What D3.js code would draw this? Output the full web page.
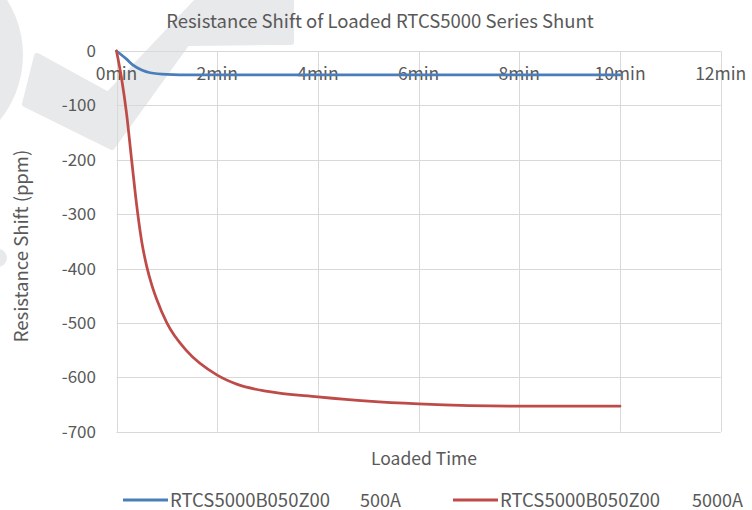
<!DOCTYPE html>
<html>
<head>
<meta charset="utf-8">
<script src="https://cdn.jsdelivr.net/npm/d3@7"></script>
<style>
  body { margin: 0; background: #fff; }
  text { font-family: "Noto Sans CJK SC", "Noto Sans", sans-serif; fill: #595959; }
</style>
</head>
<body>
<div id="chart"></div>
<script>
// Data
var timeTicks = [0, 2, 4, 6, 8, 10, 12];
var shiftTicks = [0, -100, -200, -300, -400, -500, -600, -700];

var time500A = [0, 0.2, 0.33, 0.5, 0.67, 1, 1.5, 2, 3, 4, 5, 6, 7, 8, 9, 10];
var shift500A = [0, -15, -26, -35, -40, -43, -44, -44, -44, -44, -44, -44, -44, -44, -44, -44];

var time5000A = [0, 0.1, 0.2, 0.3, 0.4, 0.5, 0.6, 0.7, 0.8, 1, 1.4, 2, 2.4, 3, 4, 5, 6, 7, 8, 9, 10];
var shift5000A = [0, -50, -115, -200, -283, -350, -396, -430, -457, -500, -552, -596, -613, -626, -636, -644, -649, -652, -653, -653, -653];

var seriesNames = ['RTCS5000B050Z00', 'RTCS5000B050Z00'];
var seriesCurrents = ['500A', '5000A'];
var seriesColors = ['#4a7ebb', '#be4b48'];

var width = 752, height = 510;

var svg = d3.select('#chart').append('svg')
  .attr('width', width)
  .attr('height', height);

// Watermark shapes in the background
var wm = svg.append('g').attr('fill', '#e8e9eb').attr('stroke', '#e8e9eb')
  .attr('stroke-width', 6).attr('stroke-linejoin', 'round');
wm.append('circle').attr('cx', -80).attr('cy', 55).attr('r', 100);
wm.append('path')
  .attr('d', 'M203,-5 L291,-5 L291,42 L187,43 L112,147 L25,104 L37,56 L108,95 Z');
wm.append('circle').attr('cx', -2).attr('cy', 258).attr('r', 6);

// Scales
var x = d3.scaleLinear().domain([0, 12]).range([116.5, 720.7]);
var y = d3.scaleLinear().domain([0, -700]).range([51, 431.7]);

// Grid
var grid = svg.append('g').attr('stroke', '#d9d9d9').attr('stroke-width', 1);
grid.selectAll('.h')
  .data(shiftTicks)
  .enter().append('line')
  .attr('x1', x(0)).attr('x2', x(12))
  .attr('y1', function(d) { return Math.round(y(d)) + 0.5; })
  .attr('y2', function(d) { return Math.round(y(d)) + 0.5; });
grid.selectAll('.v')
  .data(timeTicks)
  .enter().append('line')
  .attr('y1', y(0)).attr('y2', y(-700))
  .attr('x1', function(d) { return Math.round(x(d)) + 0.5; })
  .attr('x2', function(d) { return Math.round(x(d)) + 0.5; });

// Y tick labels
svg.append('g').selectAll('text')
  .data(shiftTicks)
  .enter().append('text')
  .attr('x', 96)
  .attr('y', function(d) { return y(d) + 6; })
  .attr('text-anchor', 'end')
  .style('font-size', '17px')
  .text(function(d) { return d; });

// X tick labels (sitting on the zero line)
svg.append('g').selectAll('text')
  .data(timeTicks)
  .enter().append('text')
  .attr('x', function(d) { return x(d); })
  .attr('y', 80)
  .attr('text-anchor', 'middle')
  .style('font-size', '17.5px')
  .text(function(d) { return d + 'min'; });

// Lines
var line = d3.line()
  .x(function(d) { return x(d[0]); })
  .y(function(d) { return y(d[1]); })
  .curve(d3.curveMonotoneX);

var series = [d3.zip(time500A, shift500A), d3.zip(time5000A, shift5000A)];

svg.append('g').selectAll('path')
  .data(series)
  .enter().append('path')
  .attr('d', line)
  .attr('fill', 'none')
  .attr('stroke', function(d, i) { return seriesColors[i]; })
  .attr('stroke-width', 2.75)
  .attr('stroke-linecap', 'round');

// Title
svg.append('text')
  .attr('x', 380).attr('y', 28)
  .attr('text-anchor', 'middle')
  .style('font-size', '18.5px')
  .text('Resistance Shift of Loaded RTCS5000 Series Shunt');

// Axis titles
svg.append('text')
  .attr('transform', 'translate(28,246) rotate(-90)')
  .attr('text-anchor', 'middle')
  .style('font-size', '18.5px')
  .text('Resistance Shift (ppm)');

svg.append('text')
  .attr('x', 424).attr('y', 465)
  .attr('text-anchor', 'middle')
  .style('font-size', '17.5px')
  .text('Loaded Time');

// Legend
var legendX = [123, 453];
var currentX = [360, 692];
var legend = svg.append('g').selectAll('g')
  .data(seriesNames)
  .enter().append('g')
  .attr('transform', function(d, i) { return 'translate(' + legendX[i] + ',500)'; });
legend.append('line')
  .attr('x1', 0).attr('x2', 45)
  .attr('stroke', function(d, i) { return seriesColors[i]; })
  .attr('stroke-width', 3);
legend.append('text')
  .attr('x', 47).attr('y', 6.5)
  .style('font-size', '18.5px')
  .text(function(d) { return d; });
legend.append('text')
  .attr('x', function(d, i) { return currentX[i] - legendX[i]; }).attr('y', 6.5)
  .style('font-size', '18px')
  .text(function(d, i) { return seriesCurrents[i]; });
</script>
</body>
</html>
